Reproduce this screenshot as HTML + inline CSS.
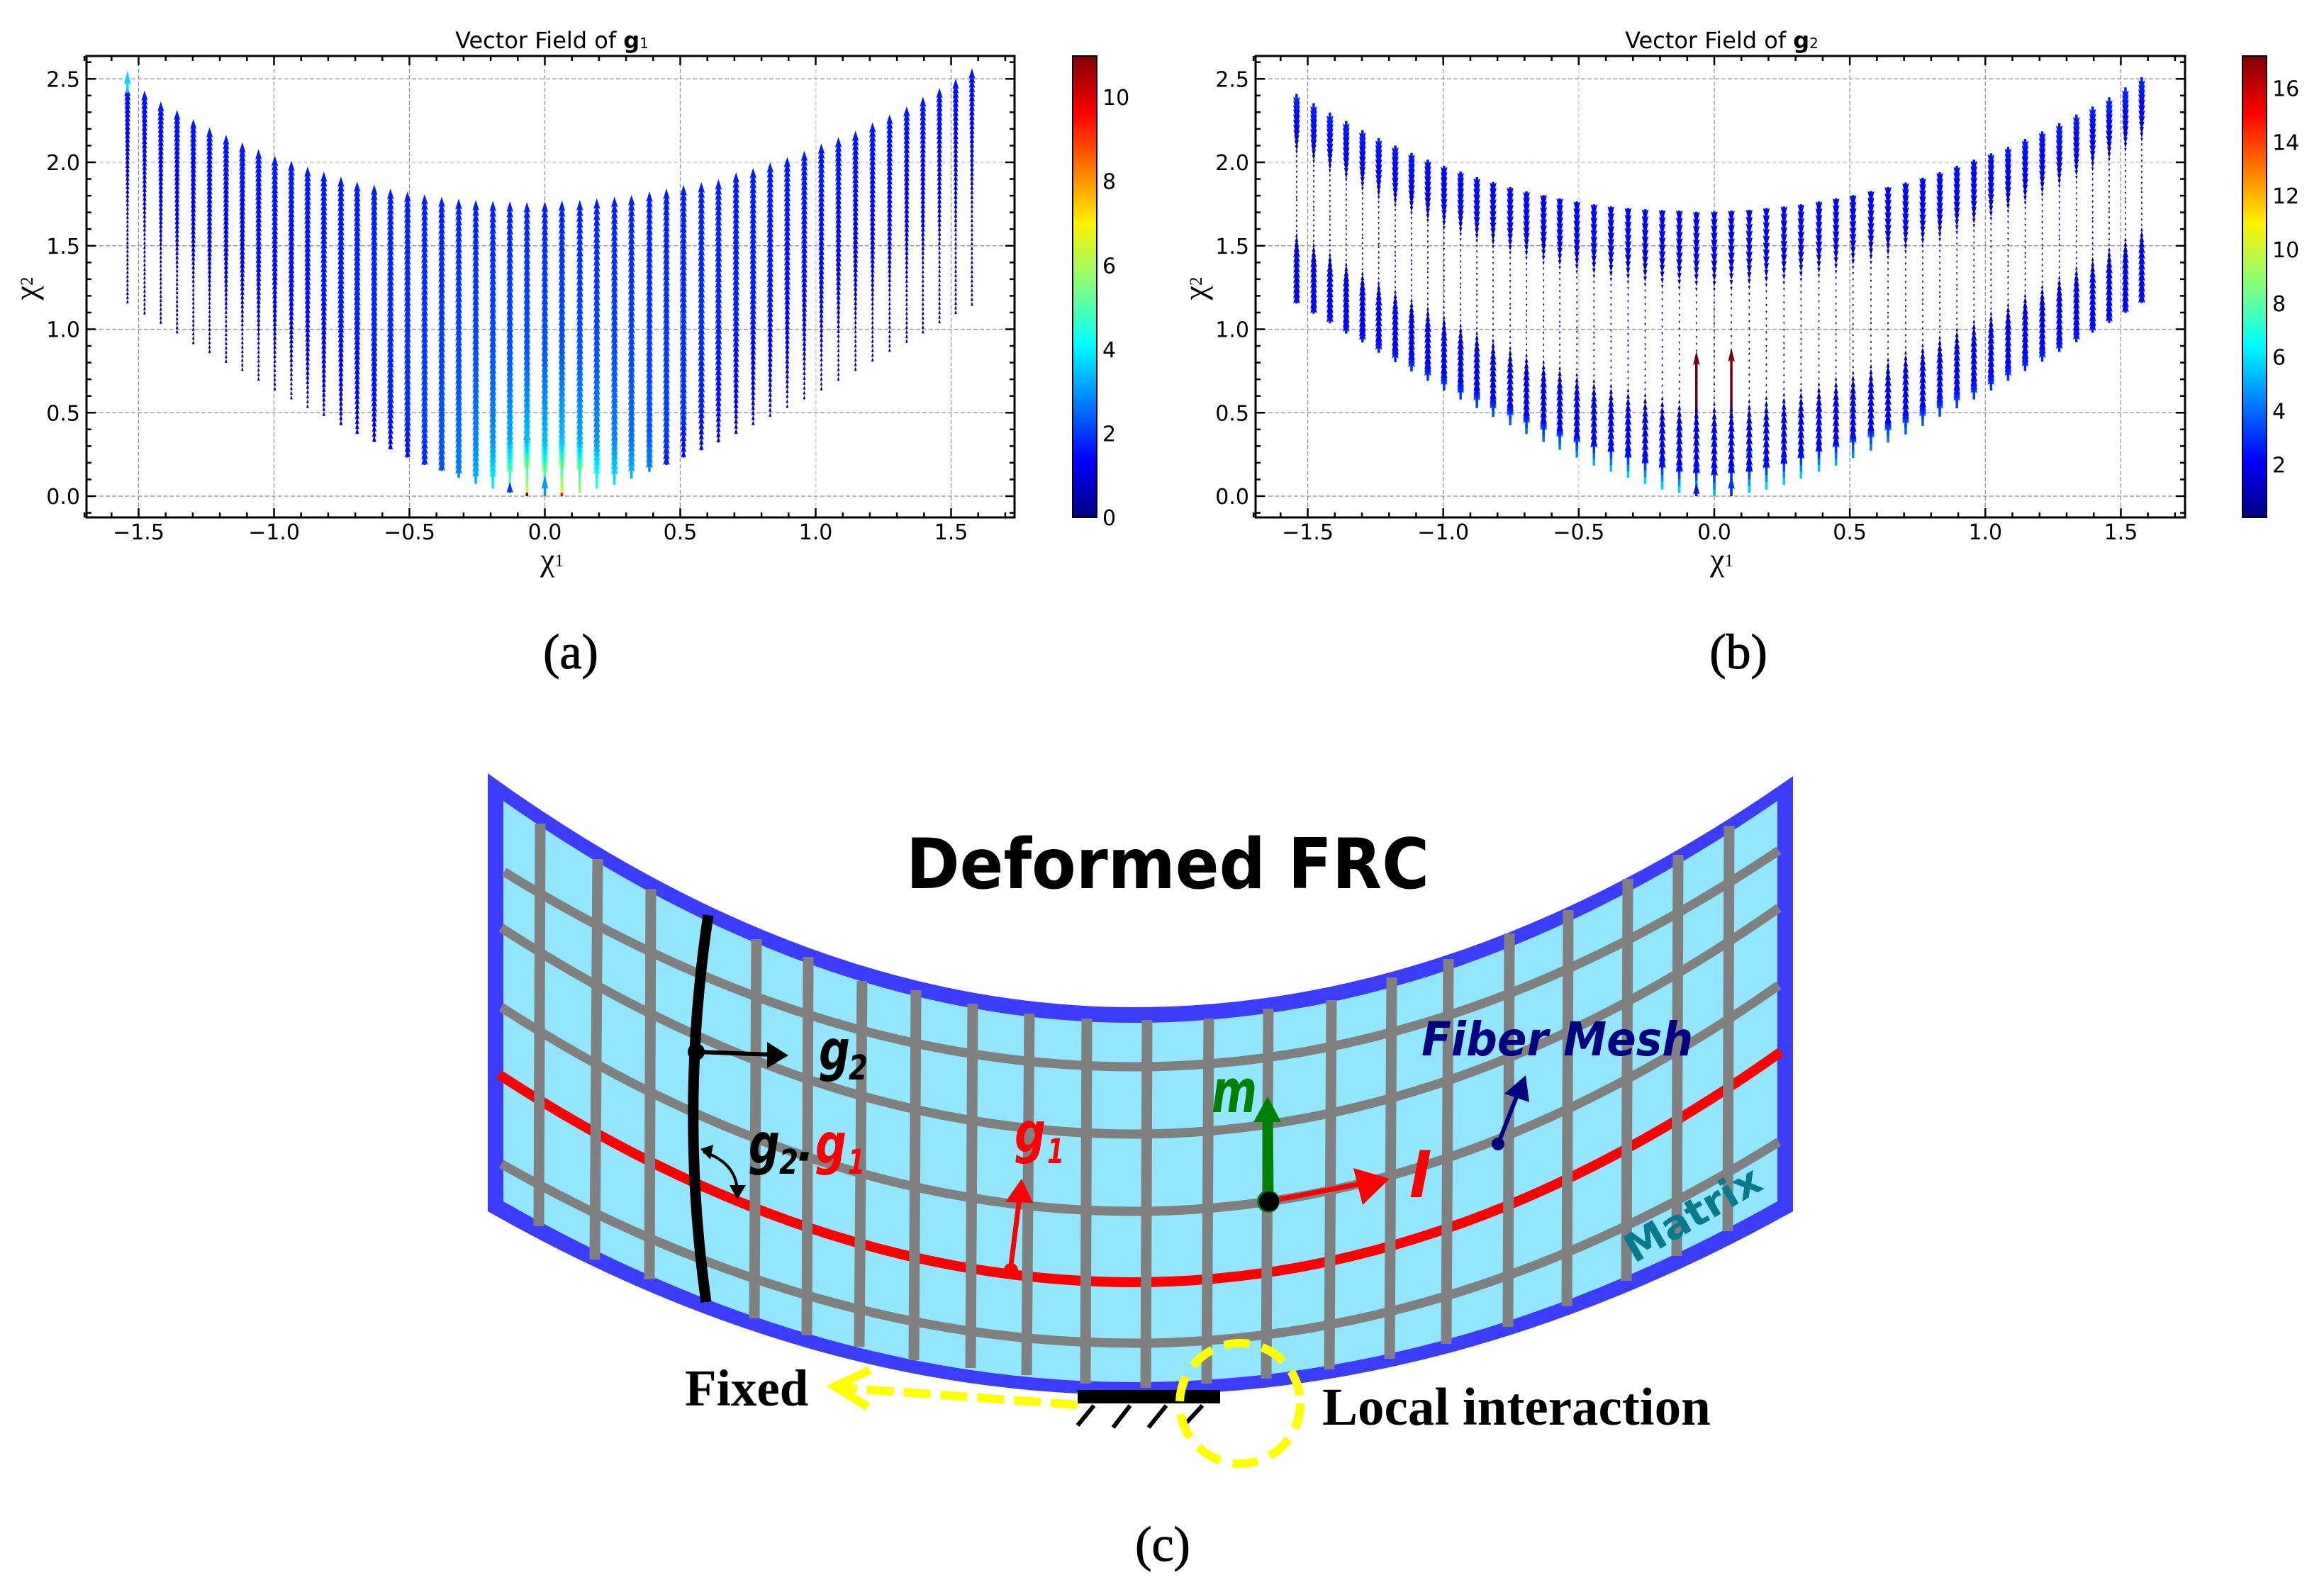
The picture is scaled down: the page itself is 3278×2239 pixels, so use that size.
<!DOCTYPE html>
<html lang="en">
<head>
<meta charset="utf-8">
<title>Vector fields of g1 and g2 on a deformed FRC</title>
<style>
html,body{margin:0;padding:0;background:#fff}
svg{display:block}
.dj{font-family:"DejaVu Sans","Liberation Sans",sans-serif}
.srf{font-family:"Liberation Serif","DejaVu Serif",serif}
.bi{font-family:"DejaVu Sans","Liberation Sans",sans-serif;font-weight:700;font-style:oblique}
</style>
</head>
<body>
<svg id="figure" xmlns="http://www.w3.org/2000/svg" width="3278" height="2239" viewBox="0 0 3278 2239">
<rect width="3278" height="2239" fill="#fff"/>
<g id="panel-a"></g>
<g id="panel-b"></g>

<text class="srf" x="805" y="943" font-size="70" text-anchor="middle" stroke="#000" stroke-width="1">(a)</text>
<text class="srf" x="2452" y="943" font-size="70" text-anchor="middle" stroke="#000" stroke-width="1">(b)</text>
<text class="srf" x="1640" y="2202" font-size="70" text-anchor="middle" stroke="#000" stroke-width="1">(c)</text>

<g>
  <path fill="#3c3cff" d="M688,1091 Q1144,1421 1600,1421 Q2064,1421 2529,1095 L2529,1709 Q2064,1968 1600,1968 Q1144,1968 688,1709 Z"/>
  <path fill="#93e6ff" d="M710,1130 Q1155,1443 1600,1443 Q2053,1443 2507,1130 L2507,1695 Q2053,1950 1600,1950 Q1155,1950 710,1695 Z"/>
  <g fill="none" stroke="#808080" stroke-width="13">
    <path d="M711,1230 Q1155,1505 1600,1505 Q2054,1505 2509,1200"/>
    <path d="M707,1309 Q1153,1600 1600,1600 Q2054,1600 2509,1281"/>
    <path d="M707,1421 Q1153,1709 1600,1709 Q2054,1709 2509,1390"/>
    <path d="M707,1642 Q1153,1895 1600,1895 Q2054,1895 2509,1611"/>
  </g>
  <path fill="none" stroke="#ff0000" stroke-width="14" d="M704,1516 Q1152,1809 1600,1809 Q2056,1809 2512,1484"/>
  <g stroke="#808080" stroke-width="15">
    <line x1="762" y1="1162" x2="760" y2="1730"/>
    <line x1="843" y1="1212" x2="839" y2="1777"/>
    <line x1="918" y1="1254" x2="916" y2="1805"/>
    <line x1="1067" y1="1325" x2="1064" y2="1860"/>
    <line x1="1140" y1="1350" x2="1138" y2="1884"/>
    <line x1="1216" y1="1384" x2="1212" y2="1900"/>
    <line x1="1292" y1="1397" x2="1289" y2="1919"/>
    <line x1="1372" y1="1416" x2="1369" y2="1930"/>
    <line x1="1452" y1="1430" x2="1448" y2="1940"/>
    <line x1="1533" y1="1437" x2="1531" y2="1952"/>
    <line x1="1618" y1="1439" x2="1616" y2="1958"/>
    <line x1="1705" y1="1437" x2="1702" y2="1952"/>
    <line x1="1789" y1="1423" x2="1786" y2="1945"/>
    <line x1="1878" y1="1411" x2="1875" y2="1932"/>
    <line x1="1963" y1="1379" x2="1960" y2="1917"/>
    <line x1="2043" y1="1353" x2="2040" y2="1896"/>
    <line x1="2129" y1="1317" x2="2127" y2="1872"/>
    <line x1="2212" y1="1284" x2="2210" y2="1843"/>
    <line x1="2296" y1="1240" x2="2294" y2="1807"/>
    <line x1="2367" y1="1206" x2="2365" y2="1772"/>
    <line x1="2439" y1="1165" x2="2437" y2="1737"/>
  </g>
  <path fill="none" stroke="#000" stroke-width="15" d="M999,1291 Q958,1565 996,1837"/>

  <text class="dj" font-weight="700" x="1278" y="1253" font-size="98" textLength="738" lengthAdjust="spacingAndGlyphs">Deformed FRC</text>

  <circle cx="982" cy="1484" r="12" fill="#000"/>
  <line x1="982" y1="1484" x2="1090" y2="1488" stroke="#000" stroke-width="6"/>
  <polygon points="1112,1489 1082,1470 1082,1507" fill="#000"/>
  <text class="bi" x="1155" y="1509" font-size="78" textLength="44" lengthAdjust="spacingAndGlyphs">g</text>
  <text class="bi" x="1197" y="1523" font-size="48" textLength="27" lengthAdjust="spacingAndGlyphs">2</text>

  <path d="M992,1625 Q1038,1640 1040,1680" fill="none" stroke="#000" stroke-width="4"/>
  <polygon points="988,1621 1006,1615 1002,1636" fill="#000"/>
  <polygon points="1040,1692 1029,1672 1052,1672" fill="#000"/>
  <text class="bi" x="1056" y="1641" font-size="78" textLength="44" lengthAdjust="spacingAndGlyphs">g</text>
  <text class="bi" x="1099" y="1656" font-size="48" textLength="27" lengthAdjust="spacingAndGlyphs">2</text>
  <text class="bi" x="1122" y="1654" font-size="64">·</text>
  <text class="bi" fill="#f00" x="1150" y="1641" font-size="78" textLength="44" lengthAdjust="spacingAndGlyphs">g</text>
  <text class="bi" fill="#f00" x="1196" y="1656" font-size="48" textLength="24" lengthAdjust="spacingAndGlyphs">1</text>

  <circle cx="1426" cy="1792" r="10" fill="#f00"/>
  <line x1="1425" y1="1793" x2="1438" y2="1690" stroke="#f00" stroke-width="7"/>
  <polygon points="1441,1663 1418,1696 1457,1697" fill="#f00"/>
  <text class="bi" fill="#f00" x="1431" y="1625" font-size="78" textLength="44" lengthAdjust="spacingAndGlyphs">g</text>
  <text class="bi" fill="#f00" x="1477" y="1641" font-size="48" textLength="24" lengthAdjust="spacingAndGlyphs">1</text>

  <line x1="1789" y1="1695" x2="1788" y2="1575" stroke="#008000" stroke-width="15"/>
  <polygon points="1788,1547 1768,1583 1807,1583" fill="#008000"/>
  <text class="bi" fill="#008000" x="1709" y="1569" font-size="85" textLength="64" lengthAdjust="spacingAndGlyphs">m</text>
  <line x1="1789" y1="1695" x2="1930" y2="1668" stroke="#f00" stroke-width="7"/>
  <polygon points="1960,1663 1909,1648 1922,1700" fill="#f00"/>
  <circle cx="1789" cy="1695" r="16" fill="#0a7a20"/>
  <circle cx="1790" cy="1695" r="14" fill="#000"/>
  <text class="bi" fill="#f00" x="1987" y="1689" font-size="87">l</text>

  <text class="bi" fill="#000080" x="2005" y="1489" font-size="66" textLength="383" lengthAdjust="spacingAndGlyphs">Fiber Mesh</text>
  <line x1="2113" y1="1614" x2="2140" y2="1545" stroke="#000080" stroke-width="6"/>
  <polygon points="2152,1517 2122,1543 2157,1555" fill="#000080"/>
  <circle cx="2113" cy="1614" r="9" fill="#000080"/>
  <text class="dj" font-weight="700" fill="#087a8e" font-size="56" textLength="213" lengthAdjust="spacingAndGlyphs" transform="translate(2305,1783) rotate(-30)">Matrix</text>

  <rect x="1520" y="1961" width="201" height="19" fill="#000"/>
  <g stroke="#000" stroke-width="6">
    <line x1="1543" y1="1983" x2="1520" y2="2011"/>
    <line x1="1594" y1="1983" x2="1570" y2="2014"/>
    <line x1="1645" y1="1983" x2="1620" y2="2014"/>
    <line x1="1696" y1="1983" x2="1668" y2="2013"/>
  </g>
  <line x1="1520" y1="1982" x2="1190" y2="1958" stroke="#ff0" stroke-width="12" stroke-dasharray="38 14"/>
  <path d="M1227,1933 L1178,1956 L1224,1985" fill="none" stroke="#ff0" stroke-width="12"/>
  <text class="srf" font-weight="700" x="966" y="1983" font-size="73">Fixed</text>
  <ellipse cx="1749" cy="1980" rx="85" ry="85" fill="none" stroke="#ff0" stroke-width="12" stroke-dasharray="36 18"/>
  <text class="srf" font-weight="700" x="1865" y="2010" font-size="75">Local interaction</text>
</g>
</svg>

<script>
// ---------- shared tick labels ----------
const xTickValues = [-1.5, -1.0, -0.5, 0.0, 0.5, 1.0, 1.5];
const xTickLabels = ["\u22121.5", "\u22121.0", "\u22120.5", "0.0", "0.5", "1.0", "1.5"];
const yTickValues = [0.0, 0.5, 1.0, 1.5, 2.0, 2.5];
const yTickLabels = ["0.0", "0.5", "1.0", "1.5", "2.0", "2.5"];
const g1ColorTicks = [0, 2, 4, 6, 8, 10];
const g2ColorTicks = [2, 4, 6, 8, 10, 12, 14, 16];

// ---------- column positions (chi1) ----------
const chi1Columns = [-1.541,-1.478,-1.418,-1.358,-1.298,-1.238,-1.177,-1.117,-1.057,-0.997,-0.936,-0.876,-0.816,-0.753,-0.693,-0.630,-0.570,-0.507,-0.444,-0.381,-0.318,-0.255,-0.192,-0.129,-0.066,0,0.063,0.129,0.192,0.257,0.320,0.386,0.449,0.512,0.578,0.641,0.706,0.769,0.832,0.895,0.958,1.021,1.084,1.147,1.210,1.273,1.336,1.396,1.457,1.517,1.577];

// ---------- g1 field ----------
const g1TipChi2 = [2.455,2.43,2.365,2.314,2.26,2.21,2.165,2.12,2.08,2.04,2.01,1.975,1.945,1.915,1.885,1.867,1.843,1.826,1.81,1.795,1.782,1.775,1.77,1.767,1.762,1.765,1.772,1.775,1.785,1.795,1.806,1.826,1.843,1.865,1.882,1.90,1.94,1.967,2.0,2.033,2.07,2.113,2.152,2.19,2.24,2.288,2.335,2.393,2.446,2.5,2.563];
const g1BaseChi2 = [1.154,1.088,1.032,0.974,0.91,0.857,0.798,0.75,0.691,0.633,0.579,0.528,0.48,0.424,0.372,0.324,0.28,0.231,0.187,0.151,0.11,0.073,0.044,0.019,0.02,0,0.02,0.019,0.044,0.068,0.105,0.146,0.187,0.231,0.275,0.321,0.372,0.424,0.475,0.528,0.579,0.633,0.691,0.75,0.806,0.864,0.918,0.974,1.035,1.09,1.14];
const g1MagBase = [0.25,0.25,0.28,0.3,0.32,0.34,0.36,0.38,0.42,0.45,0.55,0.62,0.72,0.85,0.95,1.05,1.2,1.4,1.8,2.2,2.8,3.3,4,5.5,6.2,6,6.2,5.8,4.5,3.8,3.3,2.8,1.7,1.3,1.1,1,0.9,0.8,0.72,0.62,0.55,0.45,0.42,0.38,0.36,0.34,0.32,0.3,0.28,0.25,0.3];
const g1MagLow = [0.3,0.32,0.36,0.4,0.45,0.5,0.55,0.6,0.68,0.78,0.88,1,1.1,1.2,1.35,1.5,1.7,1.9,2.1,2.3,2.55,2.8,3,3.3,3.5,3.5,3.5,3.3,3,2.8,2.55,2.3,2.1,1.9,1.7,1.5,1.35,1.2,1.1,1,0.88,0.78,0.68,0.6,0.55,0.5,0.45,0.4,0.36,0.32,0.3];
const g1MagMid = [0.85,0.95,1.05,1.15,1.2,1.25,1.3,1.35,1.4,1.45,1.5,1.55,1.6,1.7,1.75,1.8,1.85,1.9,1.95,2,2.1,2.15,2.2,2.25,2.3,2.3,2.3,2.25,2.2,2.15,2.1,2,1.95,1.9,1.85,1.8,1.75,1.7,1.6,1.55,1.5,1.45,1.4,1.35,1.3,1.25,1.2,1.15,1.05,0.95,0.85];
const g1MagTop = [1.6,1.6,1.6,1.6,1.6,1.6,1.6,1.65,1.65,1.65,1.65,1.65,1.65,1.65,1.65,1.7,1.7,1.7,1.7,1.7,1.7,1.7,1.7,1.7,1.7,1.7,1.7,1.7,1.7,1.7,1.7,1.7,1.7,1.7,1.7,1.7,1.65,1.65,1.65,1.65,1.65,1.65,1.65,1.65,1.65,1.6,1.6,1.6,1.6,1.6,1.6];
const g1OutlierChi1 = [-0.066,0.063,-1.541,-0.129,0];
const g1OutlierTail = [0,0,2.416,0.02,0];
const g1OutlierTip = [0.42,0.38,2.55,0.085,0.127];
const g1OutlierMag = [10.9,9.5,3.7,2,3];
const g1OutlierOnTop = [0,0,1,1,1];

// ---------- g2 field ----------
const g2TopChi2 = [2.41,2.354,2.298,2.247,2.193,2.145,2.10,2.057,2.016,1.979,1.945,1.911,1.882,1.852,1.826,1.804,1.784,1.765,1.748,1.736,1.726,1.719,1.714,1.711,1.704,1.706,1.711,1.716,1.726,1.736,1.748,1.765,1.784,1.804,1.828,1.852,1.879,1.908,1.94,1.979,2.016,2.054,2.093,2.14,2.186,2.235,2.286,2.334,2.39,2.449,2.51];
const g2BaseChi2 = [1.154,1.093,1.035,0.974,0.92,0.859,0.803,0.747,0.691,0.633,0.579,0.528,0.475,0.424,0.372,0.324,0.278,0.231,0.183,0.146,0.11,0.073,0.046,0.019,0.01,0,0.01,0.019,0.044,0.068,0.105,0.146,0.183,0.229,0.273,0.321,0.37,0.421,0.475,0.526,0.579,0.633,0.691,0.75,0.806,0.864,0.923,0.979,1.038,1.098,1.157];
const g2MagBase = [2.2,2.3,2.4,2.5,2.6,2.7,2.8,2.9,3.0,3.1,3.2,3.4,3.5,3.7,3.9,4.05,4.2,4.5,5,5.4,5.6,5.7,5.7,5.8,5.9,5.4,5.9,5.8,5.7,5.7,5.6,5.4,5,4.5,4.2,4.05,3.9,3.7,3.5,3.4,3.2,3.1,3.0,2.9,2.8,2.7,2.6,2.5,2.4,2.3,2.2];
const g2MagTop = [-2.7,-2.7,-2.7,-2.6,-2.6,-2.6,-2.5,-2.5,-2.5,-2.4,-2.4,-2.4,-2.3,-2.3,-2.3,-2.2,-2.2,-2.2,-2.2,-2.1,-2.1,-2.1,-2.1,-2.1,-2.1,-2.1,-2.1,-2.1,-2.1,-2.1,-2.1,-2.1,-2.2,-2.2,-2.2,-2.2,-2.3,-2.3,-2.3,-2.4,-2.4,-2.4,-2.5,-2.5,-2.5,-2.6,-2.6,-2.6,-2.7,-2.7,-2.7];
const g2ProfilePosition = [0.08,0.22,0.33,0.42,0.58,0.72,0.85];
const g2ProfileMag = [1.9,1.75,0.5,0.08,-0.1,-0.5,-1.8];
const g2OutlierChi1 = [-0.066,0.063,-0.129,0,-0.129,0,0.129,-0.192,0.192,-0.066,0.063];
const g2OutlierTail = [0,0,0.02,0.01,0.02,0.01,0.02,0.04,0.04,0.01,0.01];
const g2OutlierTip = [0.87,0.89,0.46,0.39,0.31,0.25,0.33,0.29,0.29,0.08,0.127];
const g2OutlierMag = [17.2,17.2,8.5,8,6,5.5,6,5.5,5.5,2.5,3];
const g2OutlierOnTop = [0,0,0,0,0,0,0,0,0,1,1];

const SVGNS = "http://www.w3.org/2000/svg";

function jet(t) {
  t = Math.max(0, Math.min(1, t));
  const c = v => Math.round(255 * Math.max(0, Math.min(1, v)));
  return "rgb(" + c(1.5 - Math.abs(4 * t - 3)) + "," + c(1.5 - Math.abs(4 * t - 2)) + "," + c(1.5 - Math.abs(4 * t - 1)) + ")";
}
function mk(tag, parent) {
  const el = document.createElementNS(SVGNS, tag);
  parent.appendChild(el);
  return el;
}
function lerpStops(t, pos, val) {
  for (let i = 1; i < pos.length; i++) {
    if (t <= pos[i]) {
      return val[i - 1] + (val[i] - val[i - 1]) * (t - pos[i - 1]) / (pos[i] - pos[i - 1]);
    }
  }
  return val[val.length - 1];
}
function arrowPath(x, yTail, lenPx, dir, minLen) {
  const L = Math.max(lenPx, minLen);
  const s = Math.min(1, L / 15);
  const hw = 1.75 * s, hh = 4.8 * s;
  const hl = Math.min(L, 20 * s), ha = hl * 0.9;
  const f = v => v.toFixed(1);
  const y = d => f(yTail - dir * d);
  return "M" + f(x - hw) + "," + f(yTail) + "L" + f(x - hw) + "," + y(L - ha) + "L" + f(x - hh) + "," + y(L - hl) +
         "L" + f(x) + "," + y(L) + "L" + f(x + hh) + "," + y(L - hl) + "L" + f(x + hw) + "," + y(L - ha) + "L" + f(x + hw) + "," + f(yTail) + "Z";
}

function drawChart(root, cfg) {
  const sx = v => cfg.x0 + v * cfg.xUnit;
  const sy = v => cfg.y0 - v * cfg.yUnit;
  const colorOf = m => jet((Math.abs(m) - cfg.cMin) / (cfg.cMax - cfg.cMin));

  // grid
  const grid = mk("g", root);
  
  
  xTickValues.forEach(v => {
    const l = mk("line", grid);
    
    
    l.setAttribute("x1", sx(v)); l.setAttribute("x2", sx(v));
    l.setAttribute("y1", cfg.top); l.setAttribute("y2", cfg.bottom);
    const light = v === cfg.lightX;
    l.setAttribute("stroke", light ? "#ddd" : "#8c8c8c");
    l.setAttribute("stroke-width", light ? 2.5 : 1.2);
    l.setAttribute("stroke-dasharray", "6 3");
  });
  yTickValues.forEach(v => {
    const l = mk("line", grid);
    
    
    l.setAttribute("x1", cfg.left); l.setAttribute("x2", cfg.right);
    l.setAttribute("y1", sy(v)); l.setAttribute("y2", sy(v));
    const light = v === 2.0;
    l.setAttribute("stroke", light ? "#ddd" : "#8c8c8c");
    l.setAttribute("stroke-width", light ? 2.5 : 1.2);
    l.setAttribute("stroke-dasharray", "6 3");
  });

  // outlier arrows beneath the columns
  const drawOutliers = onTop => {
    cfg.outX.forEach((v, i) => {
      if (cfg.outTop[i] !== onTop) return;
      const a = mk("path", root);
      
      
      a.setAttribute("d", arrowPath(sx(v), sy(cfg.outTail[i]), (cfg.outTip[i] - cfg.outTail[i]) * cfg.yUnit, 1, 4));
      a.setAttribute("fill", colorOf(cfg.outMag[i]));
    });
  };
  drawOutliers(0);

  // arrow columns
  chi1Columns.forEach((c, col) => {
    const g = mk("g", root);
    
    
    const base = cfg.base[col];
    const top = cfg.topTail(col, sy);
    for (let k = 0; k < cfg.arrowsPerColumn; k++) {
      const t = k / (cfg.arrowsPerColumn - 1);
      const m = cfg.magAt(col, t);
      const a = mk("path", g);
      
      
      const yTail = sy(base + (top - base) * t);
      a.setAttribute("d", arrowPath(sx(c), yTail, Math.abs(m) * cfg.k, m >= 0 ? 1 : -1, cfg.minLen));
      a.setAttribute("fill", colorOf(m));
    }
  });
  drawOutliers(1);

  // axes frame
  const frame = mk("rect", root);
  
  
  frame.setAttribute("x", cfg.left); frame.setAttribute("y", cfg.top);
  frame.setAttribute("width", cfg.right - cfg.left); frame.setAttribute("height", cfg.bottom - cfg.top);
  frame.setAttribute("fill", "none"); frame.setAttribute("stroke", "#000"); frame.setAttribute("stroke-width", 3);

  // ticks
  const ticks = mk("g", root);
  
  
  ticks.setAttribute("stroke", "#000");
  ticks.setAttribute("stroke-width", 2.5);
  for (let i = -17; i <= 17; i++) {
    const v = i / 10, len = i % 5 === 0 ? 13 : 7;
    [[cfg.bottom, cfg.bottom - len], [cfg.top, cfg.top + len]].forEach(p => {
      const l = mk("line", ticks);
      
      
      l.setAttribute("x1", sx(v)); l.setAttribute("x2", sx(v));
      l.setAttribute("y1", p[0]); l.setAttribute("y2", p[1]);
    });
  }
  for (let i = -1; i <= 26; i++) {
    const v = i / 10, len = i % 5 === 0 ? 13 : 7;
    [[cfg.left, cfg.left + len], [cfg.right, cfg.right - len]].forEach(p => {
      const l = mk("line", ticks);
      
      
      l.setAttribute("x1", p[0]); l.setAttribute("x2", p[1]);
      l.setAttribute("y1", sy(v)); l.setAttribute("y2", sy(v));
    });
  }

  // tick labels
  xTickValues.forEach((v, i) => {
    const t = mk("text", root);
    
    
    t.setAttribute("class", "dj");
    t.setAttribute("x", sx(v)); t.setAttribute("y", 761);
    t.setAttribute("font-size", 30); t.setAttribute("text-anchor", "middle");
    t.textContent = xTickLabels[i];
  });
  yTickValues.forEach((v, i) => {
    const t = mk("text", root);
    
    
    t.setAttribute("class", "dj");
    t.setAttribute("x", cfg.left - 9); t.setAttribute("y", sy(v) + 11);
    t.setAttribute("font-size", 30); t.setAttribute("text-anchor", "end");
    t.textContent = yTickLabels[i];
  });

  // title
  const title = mk("text", root);
  
  
  title.setAttribute("class", "dj");
  title.setAttribute("x", (cfg.left + cfg.right) / 2 + 2); title.setAttribute("y", 68);
  title.setAttribute("font-size", 32); title.setAttribute("text-anchor", "middle");
  const tPlain = mk("tspan", title);
  
  
  tPlain.textContent = "Vector Field of ";
  const tBold = mk("tspan", title);
  
  
  tBold.setAttribute("font-weight", "700");
  tBold.textContent = "g";
  const tSub = mk("tspan", title);
  
  
  tSub.setAttribute("font-size", 20);
  tSub.textContent = cfg.sub;

  // axis labels
  const xl = mk("text", root);
  
  
  xl.setAttribute("class", "srf");
  xl.setAttribute("x", (cfg.left + cfg.right) / 2 + 2); xl.setAttribute("y", 805);
  xl.setAttribute("font-size", 46); xl.setAttribute("text-anchor", "middle");
  const xlChi = mk("tspan", xl);
  
  
  xlChi.textContent = "\u03C7";
  const xlSub = mk("tspan", xl);
  
  
  xlSub.setAttribute("font-size", 25);
  xlSub.setAttribute("dy", -6);
  xlSub.textContent = "1";

  const yl = mk("text", root);
  
  
  yl.setAttribute("class", "srf");
  yl.setAttribute("font-size", 46); yl.setAttribute("text-anchor", "middle");
  yl.setAttribute("transform", "translate(" + (cfg.left - 70) + ",407) rotate(-90)");
  const ylChi = mk("tspan", yl);
  
  
  ylChi.textContent = "\u03C7";
  const ylSub = mk("tspan", yl);
  
  
  ylSub.setAttribute("font-size", 25);
  ylSub.setAttribute("dy", -6);
  ylSub.textContent = "2";

  // colorbar
  const cbY = v => cfg.bottom - (v - cfg.cMin) / (cfg.cMax - cfg.cMin) * (cfg.bottom - cfg.top);
  const defs = mk("defs", root);
  
  
  const grad = mk("linearGradient", defs);
  
  
  grad.setAttribute("id", cfg.id + "-jet");
  grad.setAttribute("x1", 0); grad.setAttribute("x2", 0); grad.setAttribute("y1", 1); grad.setAttribute("y2", 0);
  [0, 0.11, 0.125, 0.35, 0.375, 0.5, 0.64, 0.66, 0.875, 0.89, 0.91, 1].forEach(p => {
    const s = mk("stop", grad);
    
    
    s.setAttribute("offset", p);
    s.setAttribute("stop-color", jet(p));
  });
  const bar = mk("rect", root);
  
  
  bar.setAttribute("x", cfg.cbLeft); bar.setAttribute("y", cfg.top);
  bar.setAttribute("width", cfg.cbRight - cfg.cbLeft); bar.setAttribute("height", cfg.bottom - cfg.top);
  bar.setAttribute("fill", "url(#" + cfg.id + "-jet)");
  bar.setAttribute("stroke", "#000"); bar.setAttribute("stroke-width", 2);
  cfg.cTicks.forEach(v => {
    const t = mk("text", root);
    
    
    t.setAttribute("class", "dj");
    t.setAttribute("x", cfg.cbRight + 8); t.setAttribute("y", cbY(v) + 11);
    t.setAttribute("font-size", 30);
    t.textContent = String(v);
  });
}

drawChart(document.getElementById("panel-a"), {
  id: "g1", sub: "1", x0: 768.5, xUnit: 382, y0: 700, yUnit: 235.5,
  left: 122, right: 1431, top: 79, bottom: 730, k: 9, lightX: 1.0, arrowsPerColumn: 50, minLen: 6,
  cMin: 0, cMax: 10.98, cTicks: g1ColorTicks, cbLeft: 1513, cbRight: 1547,
  base: g1BaseChi2,
  topTail: (col) => g1TipChi2[col] - g1MagTop[col] * 9 / 235.5,
  magAt: (col, t) => lerpStops(t, [0, 0.15, 0.5, 1], [g1MagBase[col], g1MagLow[col], g1MagMid[col], g1MagTop[col]]),
  outX: g1OutlierChi1, outTail: g1OutlierTail, outTip: g1OutlierTip, outMag: g1OutlierMag, outTop: g1OutlierOnTop
});
drawChart(document.getElementById("panel-b"), {
  id: "g2", sub: "2", x0: 2418, xUnit: 382.3, y0: 700, yUnit: 235.5,
  left: 1771, right: 3082, top: 79, bottom: 730, k: 9, lightX: -0.5, arrowsPerColumn: 42, minLen: 4,
  cMin: 0.03, cMax: 17.2, cTicks: g2ColorTicks, cbLeft: 3163, cbRight: 3197,
  base: g2BaseChi2,
  topTail: (col) => g2TopChi2[col],
  magAt: (col, t) => lerpStops(t, [0].concat(g2ProfilePosition, [1]), [g2MagBase[col]].concat(g2ProfileMag, [g2MagTop[col]])),
  outX: g2OutlierChi1, outTail: g2OutlierTail, outTip: g2OutlierTip, outMag: g2OutlierMag, outTop: g2OutlierOnTop
});
</script>
</body>
</html>
